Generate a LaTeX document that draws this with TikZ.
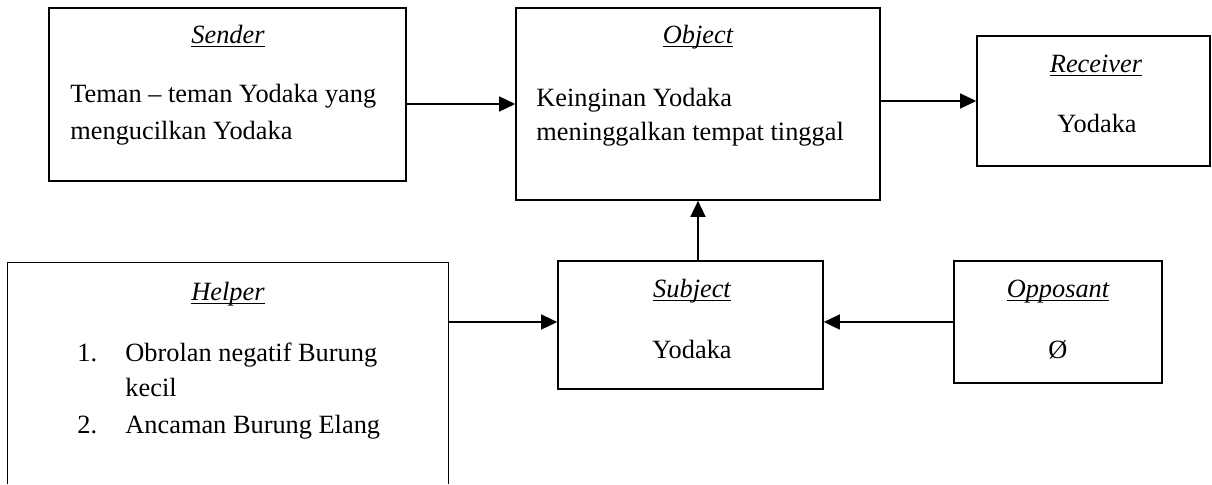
\documentclass[tikz,border=0pt]{standalone}
\usepackage{fontspec}
\setmainfont{Liberation Serif}
\usetikzlibrary{arrows.meta}

\tikzstyle{actBox} = [draw, line width = 0.75pt, inner sep = 0pt]
\tikzstyle{actSide} = [inner sep = 0pt]
\tikzstyle{actTitle} = [inner sep = 0pt, anchor = base]
\tikzstyle{actText} = [inner sep = 0pt, anchor = base west]
\tikzstyle{actArrow} = [line width = 0.75pt,
                        -{Triangle[length = 7.3pt, width = 6.8pt]}
                        ]

\newlength{\roleW}
\newcommand{\roleName}[1]{\settowidth{\roleW}{\itshape #1}{\itshape #1}\llap{\rule[-1.7pt]{\roleW}{0.5pt}}}

\begin{document}
\begin{tikzpicture}[x = 0.016cm, y = -0.016cm, font = \fontsize{12pt}{14pt}\selectfont]

    \useasboundingbox (0, 0) rectangle (1212, 484);

    %%% Boxes
    % Sender %
    \node (S) at (227.5, 94.5) [actBox, minimum width = 5.712cm, minimum height = 2.768cm]{};
    \node (St) at (228, 43) [actTitle]{\roleName{Sender}};
    \node (S1) at (70, 102) [actText]{Teman -- teman Yodaka yang};
    \node (S2) at (70, 139) [actText]{mengucilkan Yodaka};

    % Object %
    \node (O) at (698, 104) [actBox, minimum width = 5.824cm, minimum height = 3.072cm]{};
    \node (Ot) at (698, 43) [actTitle]{\roleName{Object}};
    \node (O1) at (536, 106) [actText]{Keinginan Yodaka};
    \node (O2) at (536, 140) [actText]{meninggalkan tempat tinggal};

    % Receiver %
    \node (R) at (1093.5, 101) [actBox, minimum width = 3.728cm, minimum height = 2.08cm]{};
    \node (Rt) at (1096, 72) [actTitle]{\roleName{Receiver}};
    \node (R1) at (1097, 132) [actTitle]{Yodaka};

    % Helper (open at the bottom) %
    \node (H) at (228, 373.5) [actSide, minimum width = 7.04cm, minimum height = 3.536cm]{};
    \draw[line width = 0.75pt] (H.south west) -- (H.north west) -- (H.north east) -- (H.south east);
    \node (Ht) at (228, 300) [actTitle]{\roleName{Helper}};
    \node (Hn1) at (77, 361) [actText]{1.};
    \node (H1) at (125, 361) [actText]{Obrolan negatif Burung};
    \node (H1b) at (125, 396) [actText]{kecil};
    \node (Hn2) at (77, 433) [actText]{2.};
    \node (H2) at (125, 433) [actText]{Ancaman Burung Elang};

    % Subject %
    \node (Sub) at (690.5, 325) [actBox, minimum width = 4.24cm, minimum height = 2.048cm]{};
    \node (Subt) at (692, 297) [actTitle]{\roleName{Subject}};
    \node (Sub1) at (692, 358) [actTitle]{Yodaka};

    % Opposant %
    \node (Op) at (1058, 322) [actBox, minimum width = 3.328cm, minimum height = 1.952cm]{};
    \node (Opt) at (1058, 297) [actTitle]{\roleName{Opposant}};
    \node (Op1) at (1058, 358) [actTitle]{Ø};

    %%% Arrows
    \draw[actArrow] (S.east |- O.west) -- (O.west);
    \draw[actArrow] (O.east |- R.west) -- (R.west);
    \draw[actArrow] (Sub.north -| O.south) -- (O.south);
    \draw[actArrow] (H.east |- Op.west) -- (Sub.west |- Op.west);
    \draw[actArrow] (Op.west) -- (Sub.east |- Op.west);

\end{tikzpicture}
\end{document}
